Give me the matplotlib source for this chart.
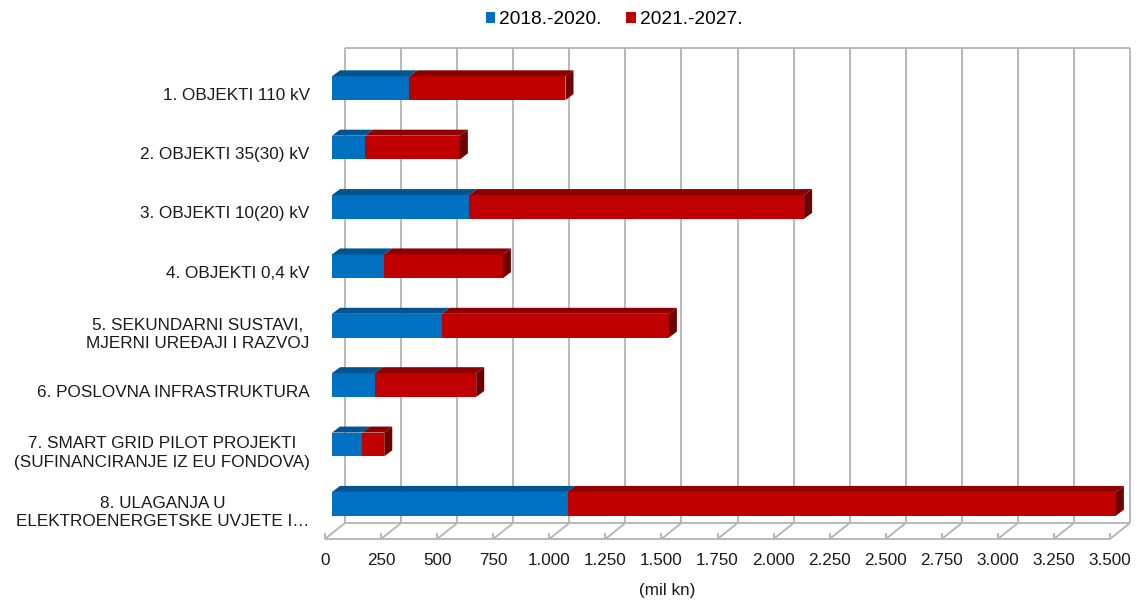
import matplotlib
matplotlib.use("Agg")
import matplotlib.pyplot as plt
from matplotlib.patches import Polygon, Patch

# data (mil kn)
categories = [
    "1. OBJEKTI 110 kV",
    "2. OBJEKTI 35(30) kV",
    "3. OBJEKTI 10(20) kV",
    "4. OBJEKTI 0,4 kV",
    "5. SEKUNDARNI SUSTAVI,\nMJERNI UREĐAJI I RAZVOJ",
    "6. POSLOVNA INFRASTRUKTURA",
    "7. SMART GRID PILOT PROJEKTI\n(SUFINANCIRANJE IZ EU FONDOVA)",
    "8. ULAGANJA U\nELEKTROENERGETSKE UVJETE I…",
]
series_names = ["2018.-2020.", "2021.-2027."]
values_2018_2020 = [345, 147, 611, 233, 489, 190, 135, 1050]
values_2021_2027 = [696, 423, 1494, 529, 1013, 453, 98, 2445]
x_ticks = [0, 250, 500, 750, 1000, 1250, 1500, 1750, 2000, 2250, 2500, 2750, 3000, 3250, 3500]
x_tick_labels = ["0", "250", "500", "750", "1.000", "1.250", "1.500", "1.750", "2.000",
                 "2.250", "2.500", "2.750", "3.000", "3.250", "3.500"]

front_colors = ["#0070C0", "#C00000"]
top_colors = ["#00548F", "#8C0000"]
side_color = "#6E0000"
grid_color = "#B3B3B3"
text_color = "#1A1A1A"
fs = 12.3

plt.rcParams['font.family'] = ['Liberation Sans', 'DejaVu Sans']

W, H = 1139, 601
fig = plt.figure(figsize=(W / 100, H / 100), dpi=100)
# axes = front plane of the floor (pixel box: x 325..1110, y 64..539 from top)
ax_l, ax_r, ax_t, ax_b = 325, 1110, 64, 539
ax = fig.add_axes([ax_l / W, (H - ax_b) / H, (ax_r - ax_l) / W, (ax_b - ax_t) / H])

n = len(categories)
xmax = x_ticks[-1]
ax.set_xlim(0, xmax)
ax.set_ylim(n - 0.5, -0.5)

# pixel -> data unit factors for the fake 3d offsets
ux = xmax / (ax_r - ax_l)
uy = n / (ax_b - ax_t)

WALL_OFF = (20, 16)
BAR_OFF = (7, 5.5)
BAR_DEPTH = (8, 6)


def shift(x, y, off):
    return x + off[0] * ux, y - off[1] * uy


def poly(pts, color, z):
    ax.add_patch(Polygon(pts, closed=True, facecolor=color, edgecolor='none',
                         zorder=z, clip_on=False))


def line(xs, ys, z=1, lw=1.3):
    ax.plot(xs, ys, color=grid_color, lw=lw, zorder=z, clip_on=False,
            solid_capstyle='butt')


# back wall gridlines + frame
y_floor, y_top = n - 0.5, -0.5
for t in x_ticks:
    x0, y0 = shift(t, y_floor, WALL_OFF)
    x1, y1 = shift(t, y_top, WALL_OFF)
    line([x0, x1], [y0, y1])
a = shift(0, y_top, WALL_OFF)
b = shift(xmax, y_top, WALL_OFF)
line([a[0], b[0]], [a[1], b[1]])
a = shift(0, y_floor, WALL_OFF)
b = shift(xmax, y_floor, WALL_OFF)
line([a[0], b[0]], [a[1], b[1]])

# floor: front edge, depth lines and small ticks
line([0, xmax], [y_floor, y_floor])
for t in x_ticks:
    bx, by = shift(t, y_floor, WALL_OFF)
    line([t, bx], [y_floor, by])
    line([t, t], [y_floor, y_floor - 6 * uy])

# bars
h = 0.4
for i in range(n):
    left = 0
    segs = [values_2018_2020[i], values_2021_2027[i]]
    yt, yb = i - h / 2, i + h / 2
    for k, v in enumerate(segs):
        right = left + v
        p_lt = shift(left, yt, BAR_OFF)
        p_rt = shift(right, yt, BAR_OFF)
        p_lb = shift(left, yb, BAR_OFF)
        p_rb = shift(right, yb, BAR_OFF)
        poly([p_lt, p_rt, p_rb, p_lb], front_colors[k], 3)
        poly([p_lt, p_rt, shift(*p_rt, BAR_DEPTH), shift(*p_lt, BAR_DEPTH)],
             top_colors[k], 3)
        if k == len(segs) - 1:
            poly([p_rt, p_rb, shift(*p_rb, BAR_DEPTH), shift(*p_rt, BAR_DEPTH)],
                 side_color, 3)
        left = right

for s in ax.spines.values():
    s.set_visible(False)
ax.set_xticks(x_ticks)
ax.set_xticklabels(x_tick_labels, fontsize=fs, color=text_color)
ax.set_yticks(range(n))
ax.set_yticklabels(categories, fontsize=fs, color=text_color, multialignment='center',
                   linespacing=1.3)
ax.tick_params(axis='x', length=0, pad=10)
ax.tick_params(axis='y', length=0, pad=11)
ax.patch.set_visible(False)

fig.text(667 / W, 1 - 591 / H, "(mil kn)", ha='center', va='center', fontsize=fs,
         color=text_color)

handles = [Patch(facecolor=c, edgecolor='none') for c in front_colors]
fig.legend(handles, series_names, loc='center', bbox_to_anchor=(614 / W, 1 - 20 / H),
           ncol=2, frameon=False, fontsize=13.8, handlelength=0.5, handleheight=0.5,
           handletextpad=0.2, columnspacing=1.3)

fig.savefig("out.png", dpi=100)
